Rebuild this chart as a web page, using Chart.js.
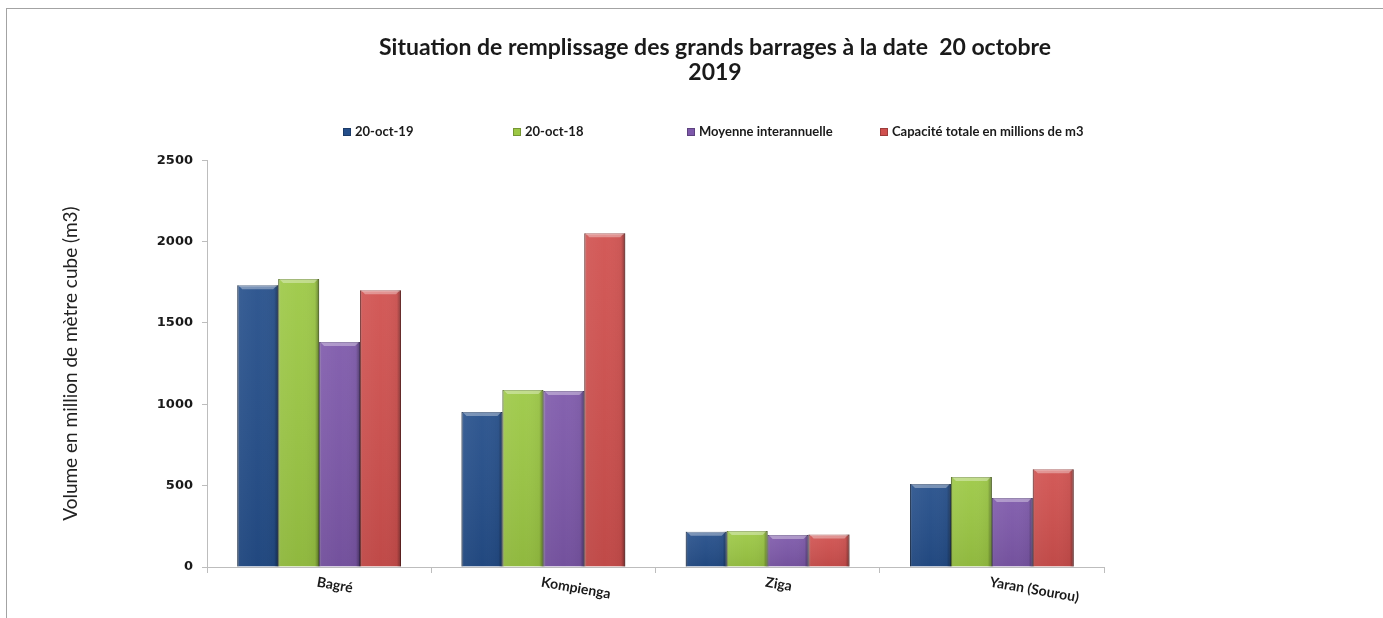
<!DOCTYPE html>
<html>
<head>
<meta charset="utf-8">
<title>Remplissage des grands barrages</title>
<script src="https://cdn.jsdelivr.net/npm/chart.js@4.4.1/dist/chart.umd.min.js"></script>
<style>
  html, body { margin: 0; padding: 0; background: #fff; }
  body { width: 1383px; height: 618px; overflow: hidden; position: relative; font-family: Lato, sans-serif; }
  #frame { position: absolute; left: 6px; top: 8px; width: 1377px; height: 610px;
           border-top: 1px solid #a3a3a3; border-left: 1px solid #a3a3a3; }
  #wrap { position: absolute; left: 0; top: 0; width: 1376px; height: 609px; }
  .item { position: absolute; top: 114px; white-space: nowrap; font: bold 13px Lato, sans-serif;
          color: #1a1a1a; line-height: 16px; }
  .item .box { display: inline-block; width: 8px; height: 8px; margin-right: 4px;
               box-shadow: inset 0 0 0 1px rgba(0,0,0,0.25); }
</style>
</head>
<body>
<div id="frame">
  <div id="wrap"><canvas id="barrages"></canvas></div>
  <div id="legend"></div>
</div>
<script>
// volumes en millions de m3
const barrages = ['Bagré', 'Kompienga', 'Ziga', 'Yaran (Sourou)'];
const oct2019 = [1732, 952, 217, 510];
const oct2018 = [1769, 1087, 221, 553];
const moyenne = [1382, 1081, 197, 424];
const capacite = [1700, 2050, 200, 600];
const seriesNames = ['20-oct-19', '20-oct-18', 'Moyenne interannuelle', 'Capacité totale en millions de m3'];
const yTicks = [0, 500, 1000, 1500, 2000, 2500];

const colors = ['#244e8a', '#9cc844', '#7d58aa', '#d0504e'];
const edges = ['#16345f', '#6a8e28', '#53387c', '#8f2d2b'];
const legendLeft = [336, 506, 680, 873];

Chart.defaults.font.family = 'Lato, sans-serif';
Chart.defaults.color = '#1a1a1a';

// shading so the bars look bevelled like the Excel 3D style
const bevel = {
  id: 'bevel',
  afterDatasetsDraw(chart) {
    const ctx = chart.ctx;
    chart.data.datasets.forEach((ds, i) => {
      chart.getDatasetMeta(i).data.forEach(bar => {
        const {x, y, width, base} = bar.getProps(['x', 'y', 'width', 'base'], true);
        const l = x - width / 2, h = base - y;
        ctx.save();
        const g = ctx.createLinearGradient(l, 0, l + width, 0);
        g.addColorStop(0, 'rgba(0,0,0,0.35)');
        g.addColorStop(0.06, 'rgba(255,255,255,0.04)');
        g.addColorStop(0.5, 'rgba(255,255,255,0)');
        g.addColorStop(0.9, 'rgba(0,0,0,0.04)');
        g.addColorStop(1, 'rgba(0,0,0,0.40)');
        ctx.fillStyle = g;
        ctx.fillRect(l, y, width, h);
        const v = ctx.createLinearGradient(0, y, 0, base);
        v.addColorStop(0, 'rgba(255,255,255,0.06)');
        v.addColorStop(1, 'rgba(0,0,0,0.08)');
        ctx.fillStyle = v;
        ctx.fillRect(l, y, width, h);
        // light top edge
        ctx.fillStyle = 'rgba(255,255,255,0.35)';
        ctx.beginPath();
        ctx.moveTo(l + 1, y);
        ctx.lineTo(l + width - 1, y);
        ctx.lineTo(l + width - 5, y + 4);
        ctx.lineTo(l + 5, y + 4);
        ctx.closePath();
        ctx.fill();
        ctx.restore();
      });
    });
  }
};

// category names, slanted under the axis
const slantedLabels = {
  id: 'slantedLabels',
  afterDraw(chart) {
    const xs = chart.scales.x, ctx = chart.ctx;
    ctx.save();
    ctx.font = 'bold 14px Lato, sans-serif';
    ctx.fillStyle = '#1a1a1a';
    ctx.textAlign = 'left';
    ctx.textBaseline = 'middle';
    chart.data.labels.forEach((lab, i) => {
      ctx.save();
      ctx.translate(xs.getPixelForTick(i) - 2, chart.chartArea.bottom + 15);
      ctx.rotate(10 * Math.PI / 180);
      ctx.fillText(lab, 0, 0);
      ctx.restore();
    });
    ctx.restore();
  }
};

const series = [oct2019, oct2018, moyenne, capacite];

const chart = new Chart(document.getElementById('barrages'), {
  type: 'bar',
  data: {
    labels: barrages,
    datasets: series.map((vals, i) => ({
      label: seriesNames[i],
      data: vals,
      backgroundColor: colors[i],
      borderColor: edges[i],
      borderWidth: 1,
      barPercentage: 1,
      categoryPercentage: 0.73
    }))
  },
  options: {
    responsive: true,
    maintainAspectRatio: false,
    animation: false,
    layout: { padding: { left: 44, right: 4, top: 0, bottom: 45 } },
    plugins: {
      legend: { display: false },
      tooltip: { enabled: false },
      title: {
        display: true,
        text: ['Situation de remplissage des grands barrages à la date  20 octobre', '2019'],
        font: { size: 23, weight: 'bold', lineHeight: 1.09 },
        color: '#1a1a1a',
        padding: { top: 26, bottom: 75 }
      }
    },
    scales: {
      x: {
        grid: { offset: true, drawOnChartArea: false, tickLength: 6, color: '#bdbdbd' },
        border: { color: '#bdbdbd' },
        ticks: { display: false }
      },
      y: {
        min: 0,
        max: 2500,
        afterBuildTicks: s => { s.ticks = yTicks.map(v => ({ value: v })); },
        afterFit: s => { s.width = 156; },
        grid: { drawOnChartArea: false, tickLength: 5, color: '#bdbdbd' },
        border: { color: '#bdbdbd' },
        ticks: {
          font: { family: 'DejaVu Sans', size: 13, weight: 'bold' },
          padding: 9,
          color: '#1a1a1a',
          callback: v => String(v)
        },
        title: {
          display: true,
          text: 'Volume en million de mètre cube (m3)',
          font: { size: 19 },
          color: '#222',
          padding: { top: 8, bottom: 0 }
        }
      },
      // empty band on the right of the plot
      gap: {
        type: 'linear',
        position: 'right',
        grid: { display: false },
        border: { display: false },
        ticks: { display: false },
        afterFit: s => { s.width = 275; }
      }
    }
  },
  plugins: [bevel, slantedLabels]
});

// legend as HTML so each entry can sit in its own slot
const legend = document.getElementById('legend');
chart.data.datasets.forEach((ds, i) => {
  const item = document.createElement('div');
  item.className = 'item';
  item.style.left = legendLeft[i] + 'px';
  const box = document.createElement('span');
  box.className = 'box';
  box.style.background = colors[i];
  item.appendChild(box);
  item.appendChild(document.createTextNode(ds.label));
  legend.appendChild(item);
});
</script>
</body>
</html>
